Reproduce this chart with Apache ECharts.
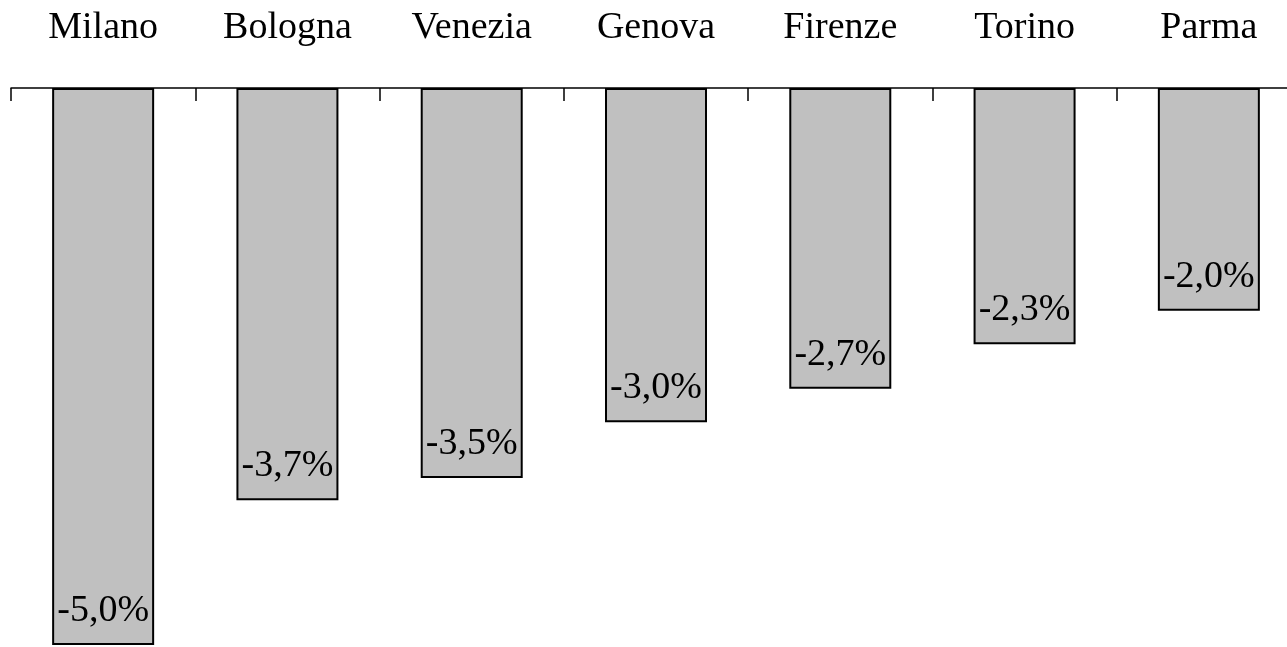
<!DOCTYPE html>
<html lang="it">
<head>
    <meta charset="UTF-8">
    <title>Variazione per città</title>
    <script src="https://cdn.jsdelivr.net/npm/echarts@6.0.0/dist/echarts.min.js"></script>
    <style>
        html, body { margin: 0; padding: 0; background: #fff; }
        #chart { width: 1287px; height: 647px; }
    </style>
</head>
<body>
    <div id="chart"></div>
    <script>
        // dati
        const citta = ['Milano', 'Bologna', 'Venezia', 'Genova', 'Firenze', 'Torino', 'Parma'];
        const variazioni = [-5.0, -3.7, -3.5, -3.0, -2.7, -2.3, -2.0];

        const font = '"Liberation Serif", "DejaVu Serif", serif';
        const chart = echarts.init(document.getElementById('chart'));

        chart.setOption({
            animation: false,
            grid: { left: 11, top: 88, width: 1290, height: 557, outerBoundsMode: 'none' },
            xAxis: {
                type: 'category',
                position: 'top',
                data: citta,
                boundaryGap: true,
                axisLine: { lineStyle: { color: '#000', width: 1.5 } },
                axisTick: { show: true, inside: true, alignWithLabel: false, interval: 0, length: 13, lineStyle: { color: '#000', width: 1.5 } },
                axisLabel: { color: '#000', fontFamily: font, fontSize: 38, margin: 41 }
            },
            yAxis: {
                type: 'value',
                min: -5,
                max: 0,
                show: false
            },
            series: [{
                type: 'bar',
                data: variazioni,
                barWidth: 102,
                itemStyle: { color: '#c0c0c0', borderColor: '#000', borderWidth: 2 },
                label: {
                    show: true,
                    position: 'insideBottom',
                    distance: 15,
                    color: '#000',
                    fontFamily: font,
                    fontSize: 38,
                    formatter: p => p.value.toFixed(1).replace('.', ',') + '%'
                }
            }]
        });
    </script>
</body>
</html>
